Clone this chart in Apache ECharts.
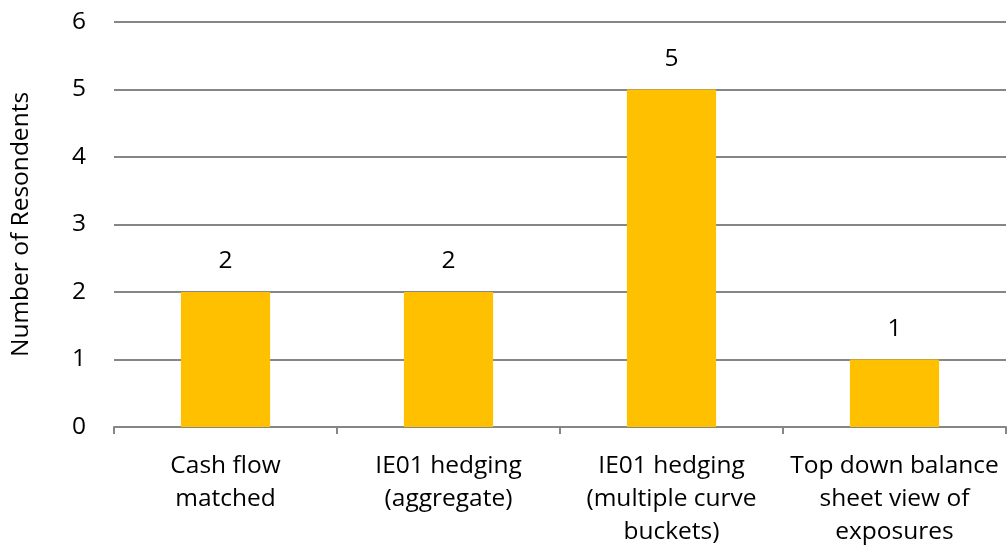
<!DOCTYPE html>
<html><head><meta charset="utf-8">
<script src="https://cdn.jsdelivr.net/npm/echarts@6/dist/echarts.min.js"></script>
<style>html,body{margin:0;padding:0;background:#fff}#c{width:1008px;height:552px}</style>
</head><body><div id="c"></div>
<script>
const categories = ["Cash flow\nmatched", "IE01 hedging\n(aggregate)", "IE01 hedging\n(multiple curve\nbuckets)", "Top down balance\nsheet view of\nexposures"];
const values = [2, 2, 5, 1];
const yTicks = [0, 1, 2, 3, 4, 5, 6];
const FONT = "'Open Sans', 'Liberation Sans', sans-serif";
const FS = 24.5;
const chart = echarts.init(document.getElementById('c'));
chart.setOption({
  animation: false,
  grid: { left: 114, right: 2, top: 22, bottom: 125, containLabel: false, outerBoundsMode: 'none' },
  xAxis: {
    type: 'category', data: categories,
    axisLine: { lineStyle: { color: '#868686', width: 2 } },
    axisTick: { show: true, length: 7, lineStyle: { color: '#868686', width: 2 } },
    axisLabel: { color: '#000', fontSize: FS, fontFamily: FONT, lineHeight: 33, margin: 23, interval: 0 }
  },
  yAxis: {
    type: 'value', min: yTicks[0], max: yTicks[yTicks.length - 1], interval: 1,
    name: 'Number of Resondents', nameLocation: 'middle', nameGap: 80, nameRotate: 90,
    nameTextStyle: { color: '#000', fontSize: FS, fontFamily: FONT },
    axisLine: { show: false }, axisTick: { show: false },
    axisLabel: { color: '#000', fontSize: FS, fontFamily: FONT, margin: 28 },
    splitLine: { lineStyle: { color: '#868686', width: 2 } }
  },
  series: [{
    type: 'bar', data: values, barWidth: '40%',
    itemStyle: { color: '#FFC000' },
    label: { show: true, position: 'top', distance: 18, color: '#000', fontSize: FS, fontFamily: FONT }
  }]
});
</script></body></html>
